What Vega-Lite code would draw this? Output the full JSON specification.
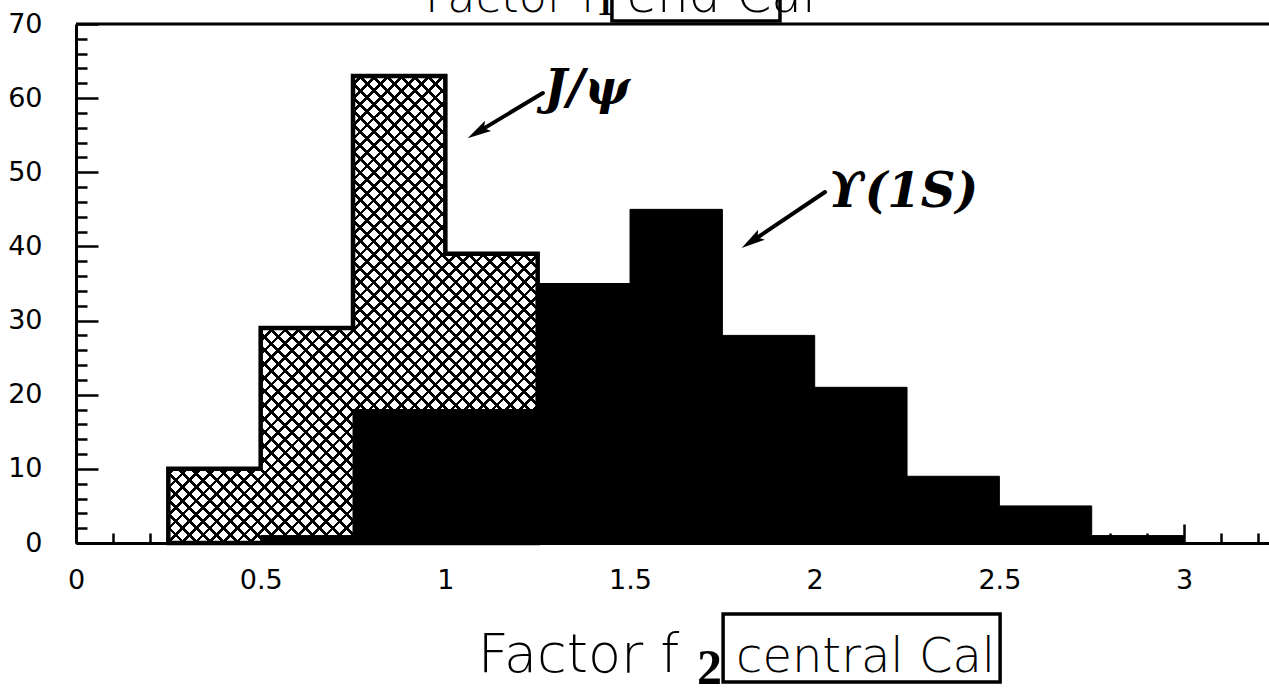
{
  "$schema": "https://vega.github.io/schema/vega-lite/v6.json",
  "autosize": "none",
  "width": 1193,
  "height": 519,
  "padding": {"left": 76, "top": 24, "right": 0, "bottom": 156},
  "background": "white",
  "config": {
    "view": {"stroke": null},
    "axis": {
      "grid": false,
      "title": null,
      "domainColor": "#000",
      "domainWidth": 3,
      "tickColor": "#000",
      "tickWidth": 2.5,
      "labelColor": "#000",
      "labelFont": "DejaVu Sans",
      "labelFontWeight": "normal",
      "labelFontSize": 27,
      "labelOverlap": false,
      "labelFlush": false
    }
  },
  "datasets": {
    "hist": [
      {"sample": "J/psi", "lo": 0.25, "hi": 0.5, "n": 10},
      {"sample": "J/psi", "lo": 0.5, "hi": 0.75, "n": 29},
      {"sample": "J/psi", "lo": 0.75, "hi": 1.0, "n": 63},
      {"sample": "J/psi", "lo": 1.0, "hi": 1.25, "n": 39},
      {"sample": "J/psi", "lo": 1.25, "hi": 1.5, "n": 0},
      {"sample": "Upsilon(1S)", "lo": 0.5, "hi": 0.75, "n": 1},
      {"sample": "Upsilon(1S)", "lo": 0.75, "hi": 1.0, "n": 18},
      {"sample": "Upsilon(1S)", "lo": 1.0, "hi": 1.25, "n": 18},
      {"sample": "Upsilon(1S)", "lo": 1.25, "hi": 1.5, "n": 35},
      {"sample": "Upsilon(1S)", "lo": 1.5, "hi": 1.75, "n": 45},
      {"sample": "Upsilon(1S)", "lo": 1.75, "hi": 2.0, "n": 28},
      {"sample": "Upsilon(1S)", "lo": 2.0, "hi": 2.25, "n": 21},
      {"sample": "Upsilon(1S)", "lo": 2.25, "hi": 2.5, "n": 9},
      {"sample": "Upsilon(1S)", "lo": 2.5, "hi": 2.75, "n": 5},
      {"sample": "Upsilon(1S)", "lo": 2.75, "hi": 3.0, "n": 1}
    ],
    "notes": [{"id": 1}]
  },
  "resolve": {"axis": {"x": "independent", "y": "independent"}},
  "layer": [
    {
      "data": {"name": "hist"},
      "encoding": {
        "x": {
          "field": "lo",
          "type": "quantitative",
          "scale": {"domain": [0, 3.23], "nice": false, "zero": false},
          "axis": {
            "values": [0, 0.1, 0.2, 0.3, 0.4, 0.5, 0.6, 0.7, 0.8, 0.9, 1, 1.1, 1.2, 1.3, 1.4, 1.5, 1.6, 1.7, 1.8, 1.9, 2, 2.1, 2.2, 2.3, 2.4, 2.5, 2.6, 2.7, 2.8, 2.9, 3, 3.1, 3.2],
            "format": "~g",
            "labelExpr": "abs(datum.value * 2 - round(datum.value * 2)) < 1e-6 ? datum.label : ''",
            "tickSize": {"condition": {"test": "abs(datum.value * 2 - round(datum.value * 2)) < 1e-6", "value": -19}, "value": -10},
            "labelPadding": 43,
            "orient": "bottom",
            "title": null
          }
        },
        "y": {
          "field": "n",
          "type": "quantitative",
          "stack": null,
          "scale": {"domain": [0, 70], "nice": false},
          "axis": {
            "values": [0, 2, 4, 6, 8, 10, 12, 14, 16, 18, 20, 22, 24, 26, 28, 30, 32, 34, 36, 38, 40, 42, 44, 46, 48, 50, 52, 54, 56, 58, 60, 62, 64, 66, 68, 70],
            "labelExpr": "datum.value % 10 === 0 ? datum.label : ''",
            "tickSize": {"condition": {"test": "datum.value % 10 === 0", "value": -22}, "value": -11},
            "labelPadding": 56,
            "orient": "left",
            "title": null
          }
        }
      },
      "layer": [
        {
          "transform": [{"filter": "datum.sample === 'J/psi'"}],
          "mark": {
            "type": "area",
            "interpolate": "step-after",
            "opacity": 1,
            "stroke": null,
            "fill": {
              "gradient": "linear", "x1": 0, "y1": 0, "x2": 0.7907, "y2": 1,
              "stops": [
                {"offset":0,"color":"#000"},{"offset":0.005,"color":"#000"},{"offset":0.005,"color":"#fff"},{"offset":0.018,"color":"#fff"},
                {"offset":0.018,"color":"#000"},{"offset":0.023,"color":"#000"},{"offset":0.023,"color":"#fff"},{"offset":0.036,"color":"#fff"},
                {"offset":0.036,"color":"#000"},{"offset":0.041,"color":"#000"},{"offset":0.041,"color":"#fff"},{"offset":0.054,"color":"#fff"},
                {"offset":0.054,"color":"#000"},{"offset":0.059,"color":"#000"},{"offset":0.059,"color":"#fff"},{"offset":0.072,"color":"#fff"},
                {"offset":0.072,"color":"#000"},{"offset":0.077,"color":"#000"},{"offset":0.077,"color":"#fff"},{"offset":0.09,"color":"#fff"},
                {"offset":0.09,"color":"#000"},{"offset":0.095,"color":"#000"},{"offset":0.095,"color":"#fff"},{"offset":0.108,"color":"#fff"},
                {"offset":0.108,"color":"#000"},{"offset":0.113,"color":"#000"},{"offset":0.113,"color":"#fff"},{"offset":0.126,"color":"#fff"},
                {"offset":0.126,"color":"#000"},{"offset":0.131,"color":"#000"},{"offset":0.131,"color":"#fff"},{"offset":0.144,"color":"#fff"},
                {"offset":0.144,"color":"#000"},{"offset":0.149,"color":"#000"},{"offset":0.149,"color":"#fff"},{"offset":0.162,"color":"#fff"},
                {"offset":0.162,"color":"#000"},{"offset":0.167,"color":"#000"},{"offset":0.167,"color":"#fff"},{"offset":0.18,"color":"#fff"},
                {"offset":0.18,"color":"#000"},{"offset":0.185,"color":"#000"},{"offset":0.185,"color":"#fff"},{"offset":0.198,"color":"#fff"},
                {"offset":0.198,"color":"#000"},{"offset":0.203,"color":"#000"},{"offset":0.203,"color":"#fff"},{"offset":0.216,"color":"#fff"},
                {"offset":0.216,"color":"#000"},{"offset":0.221,"color":"#000"},{"offset":0.221,"color":"#fff"},{"offset":0.234,"color":"#fff"},
                {"offset":0.234,"color":"#000"},{"offset":0.239,"color":"#000"},{"offset":0.239,"color":"#fff"},{"offset":0.252,"color":"#fff"},
                {"offset":0.252,"color":"#000"},{"offset":0.257,"color":"#000"},{"offset":0.257,"color":"#fff"},{"offset":0.27,"color":"#fff"},
                {"offset":0.27,"color":"#000"},{"offset":0.275,"color":"#000"},{"offset":0.275,"color":"#fff"},{"offset":0.288,"color":"#fff"},
                {"offset":0.288,"color":"#000"},{"offset":0.293,"color":"#000"},{"offset":0.293,"color":"#fff"},{"offset":0.306,"color":"#fff"},
                {"offset":0.306,"color":"#000"},{"offset":0.311,"color":"#000"},{"offset":0.311,"color":"#fff"},{"offset":0.324,"color":"#fff"},
                {"offset":0.324,"color":"#000"},{"offset":0.329,"color":"#000"},{"offset":0.329,"color":"#fff"},{"offset":0.342,"color":"#fff"},
                {"offset":0.342,"color":"#000"},{"offset":0.347,"color":"#000"},{"offset":0.347,"color":"#fff"},{"offset":0.36,"color":"#fff"},
                {"offset":0.36,"color":"#000"},{"offset":0.365,"color":"#000"},{"offset":0.365,"color":"#fff"},{"offset":0.378,"color":"#fff"},
                {"offset":0.378,"color":"#000"},{"offset":0.383,"color":"#000"},{"offset":0.383,"color":"#fff"},{"offset":0.396,"color":"#fff"},
                {"offset":0.396,"color":"#000"},{"offset":0.401,"color":"#000"},{"offset":0.401,"color":"#fff"},{"offset":0.414,"color":"#fff"},
                {"offset":0.414,"color":"#000"},{"offset":0.419,"color":"#000"},{"offset":0.419,"color":"#fff"},{"offset":0.432,"color":"#fff"},
                {"offset":0.432,"color":"#000"},{"offset":0.437,"color":"#000"},{"offset":0.437,"color":"#fff"},{"offset":0.45,"color":"#fff"},
                {"offset":0.45,"color":"#000"},{"offset":0.455,"color":"#000"},{"offset":0.455,"color":"#fff"},{"offset":0.468,"color":"#fff"},
                {"offset":0.468,"color":"#000"},{"offset":0.473,"color":"#000"},{"offset":0.473,"color":"#fff"},{"offset":0.486,"color":"#fff"},
                {"offset":0.486,"color":"#000"},{"offset":0.491,"color":"#000"},{"offset":0.491,"color":"#fff"},{"offset":0.504,"color":"#fff"},
                {"offset":0.504,"color":"#000"},{"offset":0.509,"color":"#000"},{"offset":0.509,"color":"#fff"},{"offset":0.522,"color":"#fff"},
                {"offset":0.522,"color":"#000"},{"offset":0.527,"color":"#000"},{"offset":0.527,"color":"#fff"},{"offset":0.54,"color":"#fff"},
                {"offset":0.54,"color":"#000"},{"offset":0.545,"color":"#000"},{"offset":0.545,"color":"#fff"},{"offset":0.558,"color":"#fff"},
                {"offset":0.558,"color":"#000"},{"offset":0.563,"color":"#000"},{"offset":0.563,"color":"#fff"},{"offset":0.576,"color":"#fff"},
                {"offset":0.576,"color":"#000"},{"offset":0.581,"color":"#000"},{"offset":0.581,"color":"#fff"},{"offset":0.594,"color":"#fff"},
                {"offset":0.594,"color":"#000"},{"offset":0.599,"color":"#000"},{"offset":0.599,"color":"#fff"},{"offset":0.612,"color":"#fff"},
                {"offset":0.612,"color":"#000"},{"offset":0.617,"color":"#000"},{"offset":0.617,"color":"#fff"},{"offset":0.63,"color":"#fff"},
                {"offset":0.63,"color":"#000"},{"offset":0.635,"color":"#000"},{"offset":0.635,"color":"#fff"},{"offset":0.648,"color":"#fff"},
                {"offset":0.648,"color":"#000"},{"offset":0.653,"color":"#000"},{"offset":0.653,"color":"#fff"},{"offset":0.666,"color":"#fff"},
                {"offset":0.666,"color":"#000"},{"offset":0.671,"color":"#000"},{"offset":0.671,"color":"#fff"},{"offset":0.684,"color":"#fff"},
                {"offset":0.684,"color":"#000"},{"offset":0.689,"color":"#000"},{"offset":0.689,"color":"#fff"},{"offset":0.702,"color":"#fff"},
                {"offset":0.702,"color":"#000"},{"offset":0.707,"color":"#000"},{"offset":0.707,"color":"#fff"},{"offset":0.72,"color":"#fff"},
                {"offset":0.72,"color":"#000"},{"offset":0.725,"color":"#000"},{"offset":0.725,"color":"#fff"},{"offset":0.738,"color":"#fff"},
                {"offset":0.738,"color":"#000"},{"offset":0.743,"color":"#000"},{"offset":0.743,"color":"#fff"},{"offset":0.756,"color":"#fff"},
                {"offset":0.756,"color":"#000"},{"offset":0.761,"color":"#000"},{"offset":0.761,"color":"#fff"},{"offset":0.774,"color":"#fff"},
                {"offset":0.774,"color":"#000"},{"offset":0.779,"color":"#000"},{"offset":0.779,"color":"#fff"},{"offset":0.792,"color":"#fff"},
                {"offset":0.792,"color":"#000"},{"offset":0.797,"color":"#000"},{"offset":0.797,"color":"#fff"},{"offset":0.81,"color":"#fff"},
                {"offset":0.81,"color":"#000"},{"offset":0.815,"color":"#000"},{"offset":0.815,"color":"#fff"},{"offset":0.828,"color":"#fff"},
                {"offset":0.828,"color":"#000"},{"offset":0.833,"color":"#000"},{"offset":0.833,"color":"#fff"},{"offset":0.846,"color":"#fff"},
                {"offset":0.846,"color":"#000"},{"offset":0.851,"color":"#000"},{"offset":0.851,"color":"#fff"},{"offset":0.864,"color":"#fff"},
                {"offset":0.864,"color":"#000"},{"offset":0.869,"color":"#000"},{"offset":0.869,"color":"#fff"},{"offset":0.882,"color":"#fff"},
                {"offset":0.882,"color":"#000"},{"offset":0.887,"color":"#000"},{"offset":0.887,"color":"#fff"},{"offset":0.9,"color":"#fff"},
                {"offset":0.9,"color":"#000"},{"offset":0.905,"color":"#000"},{"offset":0.905,"color":"#fff"},{"offset":0.918,"color":"#fff"},
                {"offset":0.918,"color":"#000"},{"offset":0.923,"color":"#000"},{"offset":0.923,"color":"#fff"},{"offset":0.936,"color":"#fff"},
                {"offset":0.936,"color":"#000"},{"offset":0.941,"color":"#000"},{"offset":0.941,"color":"#fff"},{"offset":0.954,"color":"#fff"},
                {"offset":0.954,"color":"#000"},{"offset":0.959,"color":"#000"},{"offset":0.959,"color":"#fff"},{"offset":0.972,"color":"#fff"},
                {"offset":0.972,"color":"#000"},{"offset":0.977,"color":"#000"},{"offset":0.977,"color":"#fff"},{"offset":0.99,"color":"#fff"},
                {"offset":0.99,"color":"#000"},{"offset":0.995,"color":"#000"},{"offset":0.995,"color":"#fff"},{"offset":1,"color":"#fff"}
              ]
            }
          }
        },
        {
          "transform": [{"filter": "datum.sample === 'J/psi'"}],
          "mark": {
            "type": "area",
            "interpolate": "step-after",
            "opacity": 1,
            "stroke": "#000",
            "strokeWidth": 4.5,
            "strokeJoin": "miter",
            "fill": {
              "gradient": "linear", "x1": 0, "y1": 1, "x2": 0.7907, "y2": 0,
              "stops": [
                {"offset":0,"color":"#000"},{"offset":0.005,"color":"#000"},{"offset":0.005,"color":"transparent"},{"offset":0.018,"color":"transparent"},
                {"offset":0.018,"color":"#000"},{"offset":0.023,"color":"#000"},{"offset":0.023,"color":"transparent"},{"offset":0.036,"color":"transparent"},
                {"offset":0.036,"color":"#000"},{"offset":0.041,"color":"#000"},{"offset":0.041,"color":"transparent"},{"offset":0.054,"color":"transparent"},
                {"offset":0.054,"color":"#000"},{"offset":0.059,"color":"#000"},{"offset":0.059,"color":"transparent"},{"offset":0.072,"color":"transparent"},
                {"offset":0.072,"color":"#000"},{"offset":0.077,"color":"#000"},{"offset":0.077,"color":"transparent"},{"offset":0.09,"color":"transparent"},
                {"offset":0.09,"color":"#000"},{"offset":0.095,"color":"#000"},{"offset":0.095,"color":"transparent"},{"offset":0.108,"color":"transparent"},
                {"offset":0.108,"color":"#000"},{"offset":0.113,"color":"#000"},{"offset":0.113,"color":"transparent"},{"offset":0.126,"color":"transparent"},
                {"offset":0.126,"color":"#000"},{"offset":0.131,"color":"#000"},{"offset":0.131,"color":"transparent"},{"offset":0.144,"color":"transparent"},
                {"offset":0.144,"color":"#000"},{"offset":0.149,"color":"#000"},{"offset":0.149,"color":"transparent"},{"offset":0.162,"color":"transparent"},
                {"offset":0.162,"color":"#000"},{"offset":0.167,"color":"#000"},{"offset":0.167,"color":"transparent"},{"offset":0.18,"color":"transparent"},
                {"offset":0.18,"color":"#000"},{"offset":0.185,"color":"#000"},{"offset":0.185,"color":"transparent"},{"offset":0.198,"color":"transparent"},
                {"offset":0.198,"color":"#000"},{"offset":0.203,"color":"#000"},{"offset":0.203,"color":"transparent"},{"offset":0.216,"color":"transparent"},
                {"offset":0.216,"color":"#000"},{"offset":0.221,"color":"#000"},{"offset":0.221,"color":"transparent"},{"offset":0.234,"color":"transparent"},
                {"offset":0.234,"color":"#000"},{"offset":0.239,"color":"#000"},{"offset":0.239,"color":"transparent"},{"offset":0.252,"color":"transparent"},
                {"offset":0.252,"color":"#000"},{"offset":0.257,"color":"#000"},{"offset":0.257,"color":"transparent"},{"offset":0.27,"color":"transparent"},
                {"offset":0.27,"color":"#000"},{"offset":0.275,"color":"#000"},{"offset":0.275,"color":"transparent"},{"offset":0.288,"color":"transparent"},
                {"offset":0.288,"color":"#000"},{"offset":0.293,"color":"#000"},{"offset":0.293,"color":"transparent"},{"offset":0.306,"color":"transparent"},
                {"offset":0.306,"color":"#000"},{"offset":0.311,"color":"#000"},{"offset":0.311,"color":"transparent"},{"offset":0.324,"color":"transparent"},
                {"offset":0.324,"color":"#000"},{"offset":0.329,"color":"#000"},{"offset":0.329,"color":"transparent"},{"offset":0.342,"color":"transparent"},
                {"offset":0.342,"color":"#000"},{"offset":0.347,"color":"#000"},{"offset":0.347,"color":"transparent"},{"offset":0.36,"color":"transparent"},
                {"offset":0.36,"color":"#000"},{"offset":0.365,"color":"#000"},{"offset":0.365,"color":"transparent"},{"offset":0.378,"color":"transparent"},
                {"offset":0.378,"color":"#000"},{"offset":0.383,"color":"#000"},{"offset":0.383,"color":"transparent"},{"offset":0.396,"color":"transparent"},
                {"offset":0.396,"color":"#000"},{"offset":0.401,"color":"#000"},{"offset":0.401,"color":"transparent"},{"offset":0.414,"color":"transparent"},
                {"offset":0.414,"color":"#000"},{"offset":0.419,"color":"#000"},{"offset":0.419,"color":"transparent"},{"offset":0.432,"color":"transparent"},
                {"offset":0.432,"color":"#000"},{"offset":0.437,"color":"#000"},{"offset":0.437,"color":"transparent"},{"offset":0.45,"color":"transparent"},
                {"offset":0.45,"color":"#000"},{"offset":0.455,"color":"#000"},{"offset":0.455,"color":"transparent"},{"offset":0.468,"color":"transparent"},
                {"offset":0.468,"color":"#000"},{"offset":0.473,"color":"#000"},{"offset":0.473,"color":"transparent"},{"offset":0.486,"color":"transparent"},
                {"offset":0.486,"color":"#000"},{"offset":0.491,"color":"#000"},{"offset":0.491,"color":"transparent"},{"offset":0.504,"color":"transparent"},
                {"offset":0.504,"color":"#000"},{"offset":0.509,"color":"#000"},{"offset":0.509,"color":"transparent"},{"offset":0.522,"color":"transparent"},
                {"offset":0.522,"color":"#000"},{"offset":0.527,"color":"#000"},{"offset":0.527,"color":"transparent"},{"offset":0.54,"color":"transparent"},
                {"offset":0.54,"color":"#000"},{"offset":0.545,"color":"#000"},{"offset":0.545,"color":"transparent"},{"offset":0.558,"color":"transparent"},
                {"offset":0.558,"color":"#000"},{"offset":0.563,"color":"#000"},{"offset":0.563,"color":"transparent"},{"offset":0.576,"color":"transparent"},
                {"offset":0.576,"color":"#000"},{"offset":0.581,"color":"#000"},{"offset":0.581,"color":"transparent"},{"offset":0.594,"color":"transparent"},
                {"offset":0.594,"color":"#000"},{"offset":0.599,"color":"#000"},{"offset":0.599,"color":"transparent"},{"offset":0.612,"color":"transparent"},
                {"offset":0.612,"color":"#000"},{"offset":0.617,"color":"#000"},{"offset":0.617,"color":"transparent"},{"offset":0.63,"color":"transparent"},
                {"offset":0.63,"color":"#000"},{"offset":0.635,"color":"#000"},{"offset":0.635,"color":"transparent"},{"offset":0.648,"color":"transparent"},
                {"offset":0.648,"color":"#000"},{"offset":0.653,"color":"#000"},{"offset":0.653,"color":"transparent"},{"offset":0.666,"color":"transparent"},
                {"offset":0.666,"color":"#000"},{"offset":0.671,"color":"#000"},{"offset":0.671,"color":"transparent"},{"offset":0.684,"color":"transparent"},
                {"offset":0.684,"color":"#000"},{"offset":0.689,"color":"#000"},{"offset":0.689,"color":"transparent"},{"offset":0.702,"color":"transparent"},
                {"offset":0.702,"color":"#000"},{"offset":0.707,"color":"#000"},{"offset":0.707,"color":"transparent"},{"offset":0.72,"color":"transparent"},
                {"offset":0.72,"color":"#000"},{"offset":0.725,"color":"#000"},{"offset":0.725,"color":"transparent"},{"offset":0.738,"color":"transparent"},
                {"offset":0.738,"color":"#000"},{"offset":0.743,"color":"#000"},{"offset":0.743,"color":"transparent"},{"offset":0.756,"color":"transparent"},
                {"offset":0.756,"color":"#000"},{"offset":0.761,"color":"#000"},{"offset":0.761,"color":"transparent"},{"offset":0.774,"color":"transparent"},
                {"offset":0.774,"color":"#000"},{"offset":0.779,"color":"#000"},{"offset":0.779,"color":"transparent"},{"offset":0.792,"color":"transparent"},
                {"offset":0.792,"color":"#000"},{"offset":0.797,"color":"#000"},{"offset":0.797,"color":"transparent"},{"offset":0.81,"color":"transparent"},
                {"offset":0.81,"color":"#000"},{"offset":0.815,"color":"#000"},{"offset":0.815,"color":"transparent"},{"offset":0.828,"color":"transparent"},
                {"offset":0.828,"color":"#000"},{"offset":0.833,"color":"#000"},{"offset":0.833,"color":"transparent"},{"offset":0.846,"color":"transparent"},
                {"offset":0.846,"color":"#000"},{"offset":0.851,"color":"#000"},{"offset":0.851,"color":"transparent"},{"offset":0.864,"color":"transparent"},
                {"offset":0.864,"color":"#000"},{"offset":0.869,"color":"#000"},{"offset":0.869,"color":"transparent"},{"offset":0.882,"color":"transparent"},
                {"offset":0.882,"color":"#000"},{"offset":0.887,"color":"#000"},{"offset":0.887,"color":"transparent"},{"offset":0.9,"color":"transparent"},
                {"offset":0.9,"color":"#000"},{"offset":0.905,"color":"#000"},{"offset":0.905,"color":"transparent"},{"offset":0.918,"color":"transparent"},
                {"offset":0.918,"color":"#000"},{"offset":0.923,"color":"#000"},{"offset":0.923,"color":"transparent"},{"offset":0.936,"color":"transparent"},
                {"offset":0.936,"color":"#000"},{"offset":0.941,"color":"#000"},{"offset":0.941,"color":"transparent"},{"offset":0.954,"color":"transparent"},
                {"offset":0.954,"color":"#000"},{"offset":0.959,"color":"#000"},{"offset":0.959,"color":"transparent"},{"offset":0.972,"color":"transparent"},
                {"offset":0.972,"color":"#000"},{"offset":0.977,"color":"#000"},{"offset":0.977,"color":"transparent"},{"offset":0.99,"color":"transparent"},
                {"offset":0.99,"color":"#000"},{"offset":0.995,"color":"#000"},{"offset":0.995,"color":"transparent"},{"offset":1,"color":"transparent"}
              ]
            }
          }
        },
        {
          "transform": [{"filter": "datum.sample === 'Upsilon(1S)'"}],
          "mark": {"type": "bar", "fill": "#000", "stroke": "#000", "strokeWidth": 1, "opacity": 1},
          "encoding": {
            "x2": {"field": "hi"},
            "y2": {"datum": 0}
          }
        }
      ]
    },
    {
      "data": {"name": "notes"},
      "layer": [
        {
          "mark": {"type": "rule", "stroke": "#000", "strokeWidth": 3},
          "encoding": {
            "x": {"datum": 0, "type": "quantitative", "axis": null},
            "x2": {"datum": 3.23},
            "y": {"datum": 70, "type": "quantitative", "axis": null}
          }
        },
        {
          "mark": {"type": "rule", "stroke": "#000", "strokeWidth": 4, "strokeCap": "round"},
          "encoding": {
            "x": {"datum": 1.264, "type": "quantitative", "axis": null},
            "y": {"datum": 60.69, "type": "quantitative", "axis": null},
            "x2": {"datum": 1.091},
            "y2": {"datum": 55.52}
          }
        },
        {
          "mark": {"type": "point", "shape": "M0,-1L0.45,0.8L0,0.45L-0.45,0.8Z", "size": 700, "angle": 239, "filled": true, "fill": "#000", "stroke": null, "opacity": 1},
          "encoding": {
            "x": {"datum": 1.091, "type": "quantitative", "axis": null},
            "y": {"datum": 55.52, "type": "quantitative", "axis": null}
          }
        },
        {
          "mark": {"type": "rule", "stroke": "#000", "strokeWidth": 4, "strokeCap": "round"},
          "encoding": {
            "x": {"datum": 2.028, "type": "quantitative", "axis": null},
            "y": {"datum": 47.34, "type": "quantitative", "axis": null},
            "x2": {"datum": 1.832},
            "y2": {"datum": 40.77}
          }
        },
        {
          "mark": {"type": "point", "shape": "M0,-1L0.45,0.8L0,0.45L-0.45,0.8Z", "size": 700, "angle": 236, "filled": true, "fill": "#000", "stroke": null, "opacity": 1},
          "encoding": {
            "x": {"datum": 1.832, "type": "quantitative", "axis": null},
            "y": {"datum": 40.77, "type": "quantitative", "axis": null}
          }
        },
        {
          "mark": {"type": "text", "text": "J/ψ", "font": "DejaVu Serif", "fontStyle": "italic", "fontWeight": "bold", "fontSize": 48, "align": "left", "baseline": "alphabetic", "fill": "#000"},
          "encoding": {
            "x": {"datum": 1.268, "type": "quantitative", "axis": null},
            "y": {"datum": 59.2, "type": "quantitative", "axis": null}
          }
        },
        {
          "mark": {"type": "text", "text": "ϒ(1S)", "font": "DejaVu Serif", "fontStyle": "italic", "fontWeight": "bold", "fontSize": 48, "align": "left", "baseline": "alphabetic", "fill": "#000"},
          "encoding": {
            "x": {"datum": 2.036, "type": "quantitative", "axis": null},
            "y": {"datum": 45.3, "type": "quantitative", "axis": null}
          }
        },
        {
          "mark": {"type": "text", "text": "Factor f", "font": "DejaVu Sans", "fontWeight": 200, "fontSize": 54, "align": "left", "baseline": "alphabetic", "fill": "#000"},
          "encoding": {
            "x": {"datum": 1.088, "type": "quantitative", "axis": null},
            "y": {"datum": -17.4, "type": "quantitative", "axis": null}
          }
        },
        {
          "mark": {"type": "text", "text": "2", "font": "Liberation Sans Narrow", "fontWeight": "bold", "fontSize": 50, "align": "left", "baseline": "alphabetic", "fill": "#000"},
          "encoding": {
            "x": {"datum": 1.681, "type": "quantitative", "axis": null},
            "y": {"datum": -19, "type": "quantitative", "axis": null}
          }
        },
        {
          "mark": {"type": "text", "text": "central Cal", "font": "DejaVu Sans", "fontWeight": 200, "fontSize": 48, "align": "left", "baseline": "alphabetic", "fill": "#000"},
          "encoding": {
            "x": {"datum": 1.787, "type": "quantitative", "axis": null},
            "y": {"datum": -17.4, "type": "quantitative", "axis": null}
          }
        },
        {
          "mark": {"type": "rect", "fill": null, "fillOpacity": 0, "stroke": "#000", "strokeWidth": 3.5, "opacity": 1},
          "encoding": {
            "x": {"datum": 1.752, "type": "quantitative", "axis": null},
            "x2": {"datum": 2.502},
            "y": {"datum": -9.58, "type": "quantitative", "axis": null},
            "y2": {"datum": -18.75}
          }
        },
        {
          "mark": {"type": "text", "text": "Factor f", "font": "DejaVu Sans", "fontWeight": 200, "fontSize": 46, "align": "left", "baseline": "alphabetic", "fill": "#000"},
          "encoding": {
            "x": {"datum": 0.945, "type": "quantitative", "axis": null},
            "y": {"datum": 71.6, "type": "quantitative", "axis": null}
          }
        },
        {
          "mark": {"type": "text", "text": "1", "font": "Liberation Sans Narrow", "fontWeight": "bold", "fontSize": 34, "align": "left", "baseline": "alphabetic", "fill": "#000"},
          "encoding": {
            "x": {"datum": 1.41, "type": "quantitative", "axis": null},
            "y": {"datum": 71.2, "type": "quantitative", "axis": null}
          }
        },
        {
          "mark": {"type": "text", "text": "end Cal", "font": "DejaVu Sans", "fontWeight": 200, "fontSize": 50, "align": "left", "baseline": "alphabetic", "fill": "#000"},
          "encoding": {
            "x": {"datum": 1.49, "type": "quantitative", "axis": null},
            "y": {"datum": 71.6, "type": "quantitative", "axis": null}
          }
        },
        {
          "mark": {"type": "rect", "fill": null, "fillOpacity": 0, "stroke": "#000", "strokeWidth": 3.5, "opacity": 1},
          "encoding": {
            "x": {"datum": 1.451, "type": "quantitative", "axis": null},
            "x2": {"datum": 1.906},
            "y": {"datum": 70.4, "type": "quantitative", "axis": null},
            "y2": {"datum": 78}
          }
        }
      ]
    }
  ]
}
